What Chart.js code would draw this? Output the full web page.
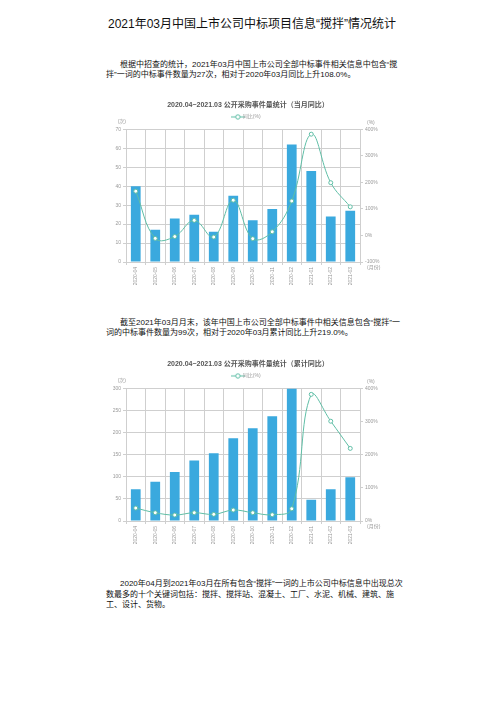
<!DOCTYPE html>
<html>
<head>
<meta charset="utf-8">
<script src="https://cdn.jsdelivr.net/npm/chart.js@4/dist/chart.umd.min.js"></script>
<style>
body{margin:0;background:#fff;font-family:"Liberation Sans","Noto Sans CJK SC",sans-serif;color:#111}
.t{position:absolute;left:0;width:504px;top:17px;text-align:center;font-size:12px;line-height:14px}
.p{position:absolute;left:106px;font-size:8px;line-height:10px;white-space:nowrap}
.c{position:absolute;left:96px;width:304px;height:190px}
</style>
</head>
<body>
<div class="t">2021年03月中国上市公司中标项目信息“搅拌”情况统计</div>
<div class="p" style="top:60px"><span style="padding-left:14px"></span>根据中招查的统计，2021年03月中国上市公司全部中标事件相关信息中包含“搅<br>拌”一词的中标事件数量为27次，相对于2020年03月同比上升108.0%。</div>
<div class="c" style="top:97px"><canvas id="c1"></canvas></div>
<div class="p" style="top:318px"><span style="padding-left:14px"></span>截至2021年03月月末，该年中国上市公司全部中标事件中相关信息包含“搅拌”一<br>词的中标事件数量为99次，相对于2020年03月累计同比上升219.0%。</div>
<div class="c" style="top:356px"><canvas id="c2"></canvas></div>
<div class="p" style="top:579px;line-height:10.5px"><span style="padding-left:14px"></span>2020年04月到2021年03月在所有包含“搅拌”一词的上市公司中标信息中出现总次<br>数最多的十个关键词包括：搅拌、搅拌站、混凝土、工厂、水泥、机械、建筑、施<br>工、设计、货物。</div>
<script>
// months on the x axis
const months = ['2020-04','2020-05','2020-06','2020-07','2020-08','2020-09','2020-10','2020-11','2020-12','2021-01','2021-02','2021-03'];

// chart 1: monthly counts and year on year change (%)
const monthCount = [40, 17, 23, 25, 16, 35, 22, 28, 62, 48, 24, 27];
const monthYoY = [167, -11, -4, 57, -6, 133, -12, 14, 130, 382, 199, 108];

// chart 2: cumulative counts and cumulative year on year change (%)
const cumCount = [72, 89, 111, 137, 153, 187, 210, 237, 300, 48, 72, 99];
const cumYoY = [39, 25, 18, 25, 20, 33, 25, 19, 37, 382, 301, 219];

const barColor = '#3aa9de';
const lineColor = '#5fbea6';
const gridColor = '#cfcfcf';
const tickColor = '#9a9a9a';
const FONT = '"Liberation Sans","Noto Sans CJK SC",sans-serif';

// legend marker: short line with a hollow circle in the middle
const legendMark = document.createElement('canvas');
legendMark.width = 14; legendMark.height = 6;
(function () {
  const g = legendMark.getContext('2d');
  g.strokeStyle = lineColor; g.lineWidth = 1;
  g.beginPath(); g.moveTo(0, 3); g.lineTo(14, 3); g.stroke();
  g.fillStyle = '#fff';
  g.beginPath(); g.arc(7, 3, 2.2, 0, Math.PI * 2); g.fill(); g.stroke();
})();

// unit labels around the axes
const unitLabels = {
  id: 'unitLabels',
  afterDraw(chart) {
    const ctx = chart.ctx, a = chart.chartArea;
    ctx.save();
    ctx.fillStyle = tickColor;
    ctx.font = '5px ' + FONT;
    ctx.textBaseline = 'middle';
    ctx.textAlign = 'right';
    ctx.fillText('(次)', a.left, a.top - 8);
    ctx.textAlign = 'left';
    ctx.fillText('(%)', a.right + 7, a.top - 7);
    ctx.fillText('(月份)', a.right + 7, a.bottom + 6);
    ctx.restore();
  }
};

function makeChart(id, title, counts, yoy, leftMax, leftStep, rightMin) {
  new Chart(document.getElementById(id), {
    data: {
      labels: months,
      datasets: [{
        type: 'bar',
        label: '数量',
        data: counts,
        backgroundColor: barColor,
        barPercentage: 0.5,
        categoryPercentage: 1,
        yAxisID: 'y',
        order: 2
      }, {
        type: 'line',
        label: '同比(%)',
        data: yoy,
        borderColor: lineColor,
        borderWidth: 1,
        backgroundColor: '#fff',
        pointBackgroundColor: '#fff',
        pointBorderColor: lineColor,
        pointBorderWidth: 1,
        pointRadius: 2,
        tension: 0.4,
        yAxisID: 'y1',
        order: 1
      }]
    },
    options: {
      responsive: true,
      maintainAspectRatio: false,
      animation: false,
      layout: {padding: 0},
      plugins: {
        title: {
          display: true,
          text: title,
          color: '#555',
          font: {size: 7, weight: 'bold', family: FONT},
          padding: {top: 4, bottom: 1}
        },
        legend: {
          display: true,
          labels: {
            filter: item => item.datasetIndex === 1,
            usePointStyle: true,
            pointStyle: legendMark,
            boxWidth: 14,
            boxHeight: 5,
            padding: 4,
            color: tickColor,
            font: {size: 5, family: FONT}
          }
        },
        tooltip: {enabled: false}
      },
      scales: {
        x: {
          grid: {color: gridColor, tickLength: 3},
          border: {color: gridColor},
          ticks: {color: tickColor, font: {size: 5, family: FONT}, minRotation: 90, maxRotation: 90, autoSkip: false, padding: 2},
          afterFit: s => { s.height = 25; }
        },
        y: {
          position: 'left',
          min: 0, max: leftMax,
          grid: {color: gridColor, tickLength: 3},
          border: {color: gridColor},
          ticks: {stepSize: leftStep, color: tickColor, font: {size: 5, family: FONT}, padding: 2},
          afterFit: s => { s.width = 30; }
        },
        y1: {
          position: 'right',
          min: rightMin, max: 400,
          grid: {drawOnChartArea: false, color: gridColor, tickLength: 3},
          border: {color: gridColor},
          ticks: {stepSize: 100, color: tickColor, font: {size: 5, family: FONT}, padding: 2, callback: v => v + '%'},
          afterFit: s => { s.width = 40; }
        }
      }
    },
    plugins: [unitLabels]
  });
}

makeChart('c1', '2020.04~2021.03 公开采购事件量统计（当月同比）', monthCount, monthYoY, 70, 10, -100);
makeChart('c2', '2020.04~2021.03 公开采购事件量统计（累计同比）', cumCount, cumYoY, 300, 50, 0);
</script>
</body>
</html>
